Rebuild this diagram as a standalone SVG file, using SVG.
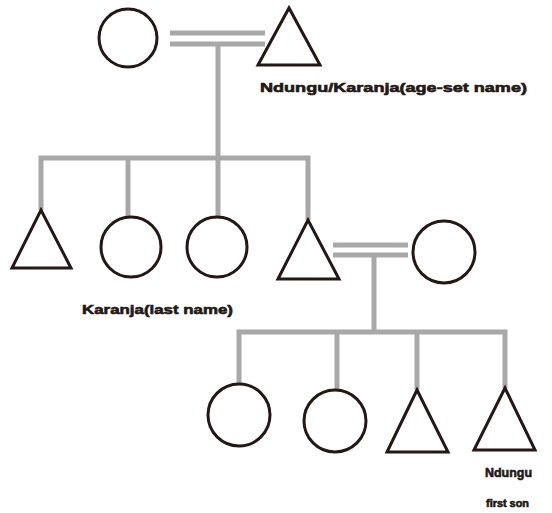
<svg xmlns="http://www.w3.org/2000/svg" width="552" height="513" viewBox="0 0 552 513">
  <style>
    .person { fill: none; stroke: #231815; stroke-width: 3; }
    .line { fill: none; stroke: #a8a8a8; stroke-width: 5; }
    .label { font-family: "Liberation Sans", Arial, sans-serif; font-weight: bold; fill: #231815; stroke: #231815; stroke-width: 0.6; }
  </style>
  <rect width="552" height="513" fill="#ffffff"/>

  <!-- kinship lines -->
  <g id="connectors">
    <!-- first generation marriage -->
    <line class="line" x1="170" y1="33" x2="265" y2="33"/>
    <line class="line" x1="170" y1="44" x2="265" y2="44"/>
    <line class="line" x1="218" y1="44" x2="218" y2="158"/>
    <polyline class="line" points="41,210 41,158 308,158 308,220"/>
    <line class="line" x1="128" y1="158" x2="128" y2="217"/>
    <line class="line" x1="218" y1="158" x2="218" y2="217"/>
    <!-- second generation marriage -->
    <line class="line" x1="333" y1="245" x2="408" y2="245"/>
    <line class="line" x1="333" y1="255" x2="408" y2="255"/>
    <line class="line" x1="374" y1="255" x2="374" y2="332"/>
    <polyline class="line" points="239,383 239,332 505,332 505,388"/>
    <line class="line" x1="337" y1="332" x2="337" y2="390"/>
    <line class="line" x1="417" y1="332" x2="417" y2="390"/>
  </g>

  <!-- first generation -->
  <g id="grandmother"><circle class="person" cx="128" cy="38" r="29"/></g>
  <g id="grandfather">
    <polygon class="person" points="258,65 289,8 320,65"/>
    <text class="label" x="260" y="92" font-size="13" textLength="267" lengthAdjust="spacingAndGlyphs">Ndungu/Karanja(age-set name)</text>
  </g>

  <!-- second generation -->
  <g id="son1"><polygon class="person" points="12,268 41,210 71,268"/></g>
  <g id="daughter1"><circle class="person" cx="131" cy="247" r="30"/></g>
  <g id="daughter2"><circle class="person" cx="217" cy="247" r="30"/></g>
  <g id="son2">
    <polygon class="person" points="278,279 308,220 339,279"/>
  </g>
  <text class="label" x="82" y="314" font-size="13" textLength="151" lengthAdjust="spacingAndGlyphs">Karanja(last name)</text>
  <g id="wife"><circle class="person" cx="444" cy="252" r="31"/></g>

  <!-- third generation -->
  <g id="grandchild1"><circle class="person" cx="239" cy="415" r="31"/></g>
  <g id="grandchild2"><circle class="person" cx="335" cy="421" r="31"/></g>
  <g id="grandchild3"><polygon class="person" points="387,452 417,390 448,452"/></g>
  <g id="grandchild4">
    <polygon class="person" points="474,450 505,388 535,450"/>
    <text class="label" x="485" y="477" font-size="13" textLength="47" lengthAdjust="spacingAndGlyphs">Ndungu</text>
    <text class="label" x="486" y="507" font-size="10" textLength="43" lengthAdjust="spacingAndGlyphs">first son</text>
  </g>
</svg>
